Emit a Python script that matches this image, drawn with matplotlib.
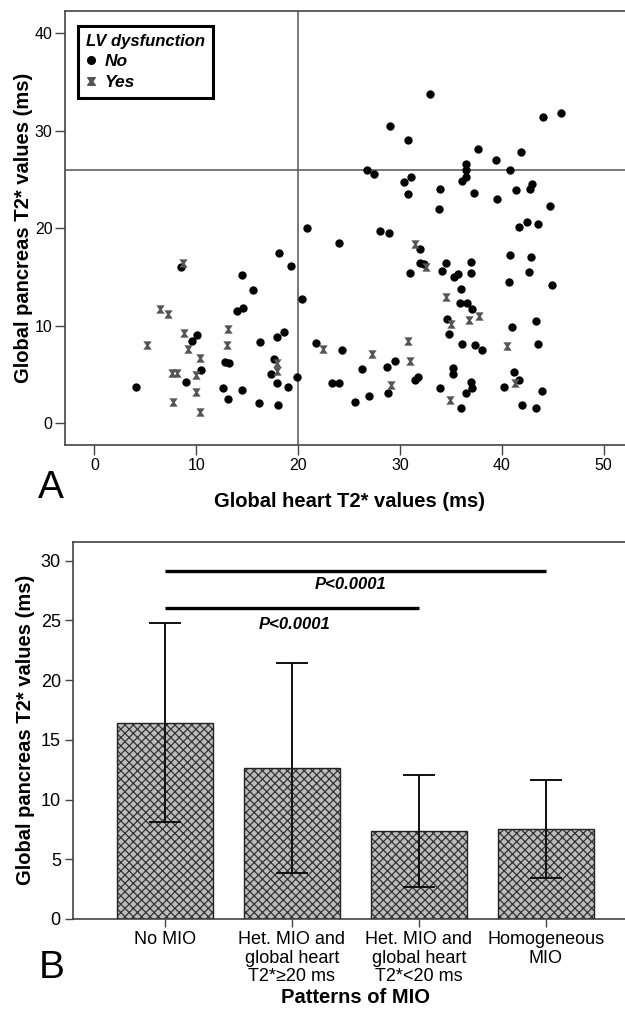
import numpy as np
import matplotlib.pyplot as plt
from matplotlib.path import Path
from matplotlib.lines import Line2D

plt.rcParams['font.family'] = ['Liberation Sans', 'DejaVu Sans']
plt.rcParams['hatch.linewidth'] = 0.9

# --- panel A: heart vs pancreas T2* ---
no_x = [33.0, 29.0, 30.8, 44.1, 45.8, 37.7, 39.4, 41.9, 36.5, 36.5, 26.8, 27.5,
        40.8, 31.1, 30.4, 36.5, 36.1, 43.0, 42.8, 30.8, 33.9, 37.3, 41.4, 39.5,
        33.8, 44.7, 42.5, 43.6, 41.7, 28.0, 28.9, 24.0, 32.0, 40.8, 42.9, 32.0,
        32.4, 34.5, 37.0, 31.0, 34.1, 35.3, 35.7, 37.0, 40.7, 42.7, 44.9, 36.0,
        35.9, 36.6, 37.1, 34.6, 34.8, 43.4, 41.0, 36.1, 37.4, 38.1, 43.6, 24.3,
        26.3, 28.7, 29.5, 35.2, 35.2, 31.8, 31.5, 41.2, 41.7, 37.0, 37.1, 36.5,
        40.2, 44.0, 28.8, 33.9, 27.0, 25.6, 36.0, 42.0, 43.4, 23.3, 24.0, 20.9,
        18.1, 19.3, 8.5, 14.5, 15.6, 20.4, 14.0, 14.6, 10.1, 9.6, 18.6, 17.9,
        16.3, 21.8, 17.6, 12.8, 13.2, 17.3, 10.5, 19.9, 9.0, 17.9, 19.0, 4.1,
        12.6, 14.5, 13.1, 16.2, 18.0]
no_y = [33.8, 30.5, 29.1, 31.4, 31.8, 28.1, 27.0, 27.8, 26.6, 26.0, 26.0, 25.6,
        26.0, 25.3, 24.8, 25.3, 24.9, 24.6, 24.0, 23.5, 24.0, 23.6, 23.9, 23.0,
        22.0, 22.3, 20.7, 20.5, 20.1, 19.7, 19.5, 18.5, 17.9, 17.3, 17.1, 16.4,
        16.3, 16.4, 16.6, 15.4, 15.6, 15.0, 15.3, 15.4, 14.5, 15.5, 14.2, 13.8,
        12.3, 12.3, 11.7, 10.7, 9.2, 10.5, 9.9, 8.1, 8.0, 7.5, 8.1, 7.5,
        5.6, 5.8, 6.4, 5.7, 5.1, 4.8, 4.4, 5.3, 4.4, 4.2, 3.6, 3.1,
        3.7, 3.3, 3.1, 3.6, 2.8, 2.2, 1.6, 1.9, 1.6, 4.1, 4.1, 20.0,
        17.5, 16.1, 16.0, 15.2, 13.7, 12.8, 11.5, 11.8, 9.1, 8.4, 9.4, 8.9,
        8.3, 8.2, 6.6, 6.3, 6.2, 5.1, 5.5, 4.8, 4.2, 4.1, 3.7, 3.7,
        3.6, 3.4, 2.5, 2.1, 1.9]
yes_x = [31.5, 32.6, 34.5, 37.8, 36.8, 35.0, 40.5, 41.3, 30.8, 27.3, 31.0, 29.1,
         34.9, 8.7, 6.4, 7.2, 13.1, 8.8, 5.2, 13.0, 22.5, 9.2, 10.4, 17.9,
         17.9, 7.6, 8.1, 10.0, 10.0, 7.7, 10.4]
yes_y = [18.4, 16.0, 13.0, 11.0, 10.6, 10.2, 7.9, 4.1, 8.4, 7.1, 6.4, 3.9,
         2.4, 16.4, 11.7, 11.2, 9.7, 9.3, 8.0, 8.0, 7.6, 7.6, 6.7, 6.2,
         5.4, 5.2, 5.2, 5.0, 3.2, 2.2, 1.2]
heart_cut = 20
pancreas_cut = 26

# --- panel B: pancreas T2* by MIO pattern ---
patterns = ['No MIO', 'Het. MIO and\nglobal heart\nT2*\u226520 ms',
            'Het. MIO and\nglobal heart\nT2*<20 ms', 'Homogeneous\nMIO']
means = [16.45, 12.65, 7.37, 7.56]
sds = [8.3, 8.8, 4.7, 4.1]
sig_pairs = [(0, 3, 29.15), (0, 2, 26.05)]
sig_text = ['P<0.0001', 'P<0.0001']

# hourglass-like marker used for "Yes"
hg = Path([(-1, 1), (1, 1), (0.3, 0), (1, -1), (-1, -1), (-0.3, 0), (-1, 1)],
          [Path.MOVETO] + [Path.LINETO] * 5 + [Path.CLOSEPOLY])

fig = plt.figure(figsize=(6.25, 10.14), dpi=100)
spine_c = '#444444'

axA = fig.add_axes([0.104, 0.5611, 0.909, 0.428])
axA.axvline(heart_cut, color='#555555', lw=1.1, zorder=1)
axA.axhline(pancreas_cut, color='#555555', lw=1.1, zorder=1)
axA.scatter(no_x, no_y, s=36, c='black', marker='o', lw=0, zorder=3)
axA.scatter(yes_x, yes_y, s=36, c='#555555', marker=hg, lw=0, zorder=4)
axA.set_xlim(-2.88, 52.9)
axA.set_ylim(-2.23, 42.3)
axA.set_xticks([0, 10, 20, 30, 40, 50])
axA.set_yticks([0, 10, 20, 30, 40])
axA.tick_params(labelsize=11.5, length=7, width=1, color=spine_c, pad=2)
for sp in axA.spines.values():
    sp.set_color(spine_c)
    sp.set_linewidth(1.2)
axA.set_xlabel('Global heart T2* values (ms)', fontsize=14.5, fontweight='bold', labelpad=14)
axA.set_ylabel('Global pancreas T2* values (ms)', fontsize=14.5, fontweight='bold', labelpad=1)

handles = [Line2D([], [], ls='none', marker='o', color='black', ms=5.5),
           Line2D([], [], ls='none', marker=hg, color='#555555', ms=5.5)]
leg = axA.legend(handles, ['No', 'Yes'], title='LV dysfunction', loc='upper left',
                 bbox_to_anchor=(0.023, 0.965), fancybox=False, framealpha=1,
                 edgecolor='black', handlelength=0.6, handletextpad=0.5,
                 borderpad=0.45, labelspacing=0.3, borderaxespad=0,
                 prop={'weight': 'bold', 'style': 'italic', 'size': 12.5},
                 title_fontproperties={'weight': 'bold', 'style': 'italic', 'size': 12})
leg._legend_box.align = 'left'
leg.get_frame().set_linewidth(2.2)

fig.text(0.082, 0.519, 'A', fontsize=28, ha='center', va='center')

axB = fig.add_axes([0.1173, 0.0937, 0.902, 0.3721])
xpos = np.arange(len(patterns))
axB.bar(xpos, means, width=0.755, color='#bcbcbc', edgecolor='#333333',
        hatch='xxxx', lw=0, zorder=2)
axB.bar(xpos, means, width=0.755, fill=False, edgecolor='#222222', lw=1.0, zorder=3)
axB.errorbar(xpos, means, yerr=sds, fmt='none', ecolor='#111111', elinewidth=1.4,
             capsize=11.5, capthick=1.4, zorder=4)
for (a, b, y), t in zip(sig_pairs, sig_text):
    axB.plot([a, b], [y, y], color='black', lw=2.4, solid_capstyle='butt', zorder=4)
axB.text(1.46, 28.05, sig_text[0], fontsize=12, fontweight='bold', style='italic',
         ha='center', va='center')
axB.text(1.02, 24.7, sig_text[1], fontsize=12, fontweight='bold', style='italic',
         ha='center', va='center')
axB.set_xlim(-0.722, 3.72)
axB.set_ylim(0, 31.6)
axB.set_yticks([0, 5, 10, 15, 20, 25, 30])
axB.set_xticks(xpos)
axB.set_xticklabels(patterns, fontsize=13, linespacing=1.1)
axB.tick_params(axis='y', labelsize=13)
axB.tick_params(length=6, width=1, color=spine_c, pad=3)
for sp in axB.spines.values():
    sp.set_color(spine_c)
    sp.set_linewidth(1.2)
axB.set_xlabel('Patterns of MIO', fontsize=14.5, fontweight='bold', labelpad=2)
axB.set_ylabel('Global pancreas T2* values (ms)', fontsize=14.5, fontweight='bold', labelpad=4)

fig.text(0.082, 0.045, 'B', fontsize=28, ha='center', va='center')

fig.savefig('out.png', dpi=100)
